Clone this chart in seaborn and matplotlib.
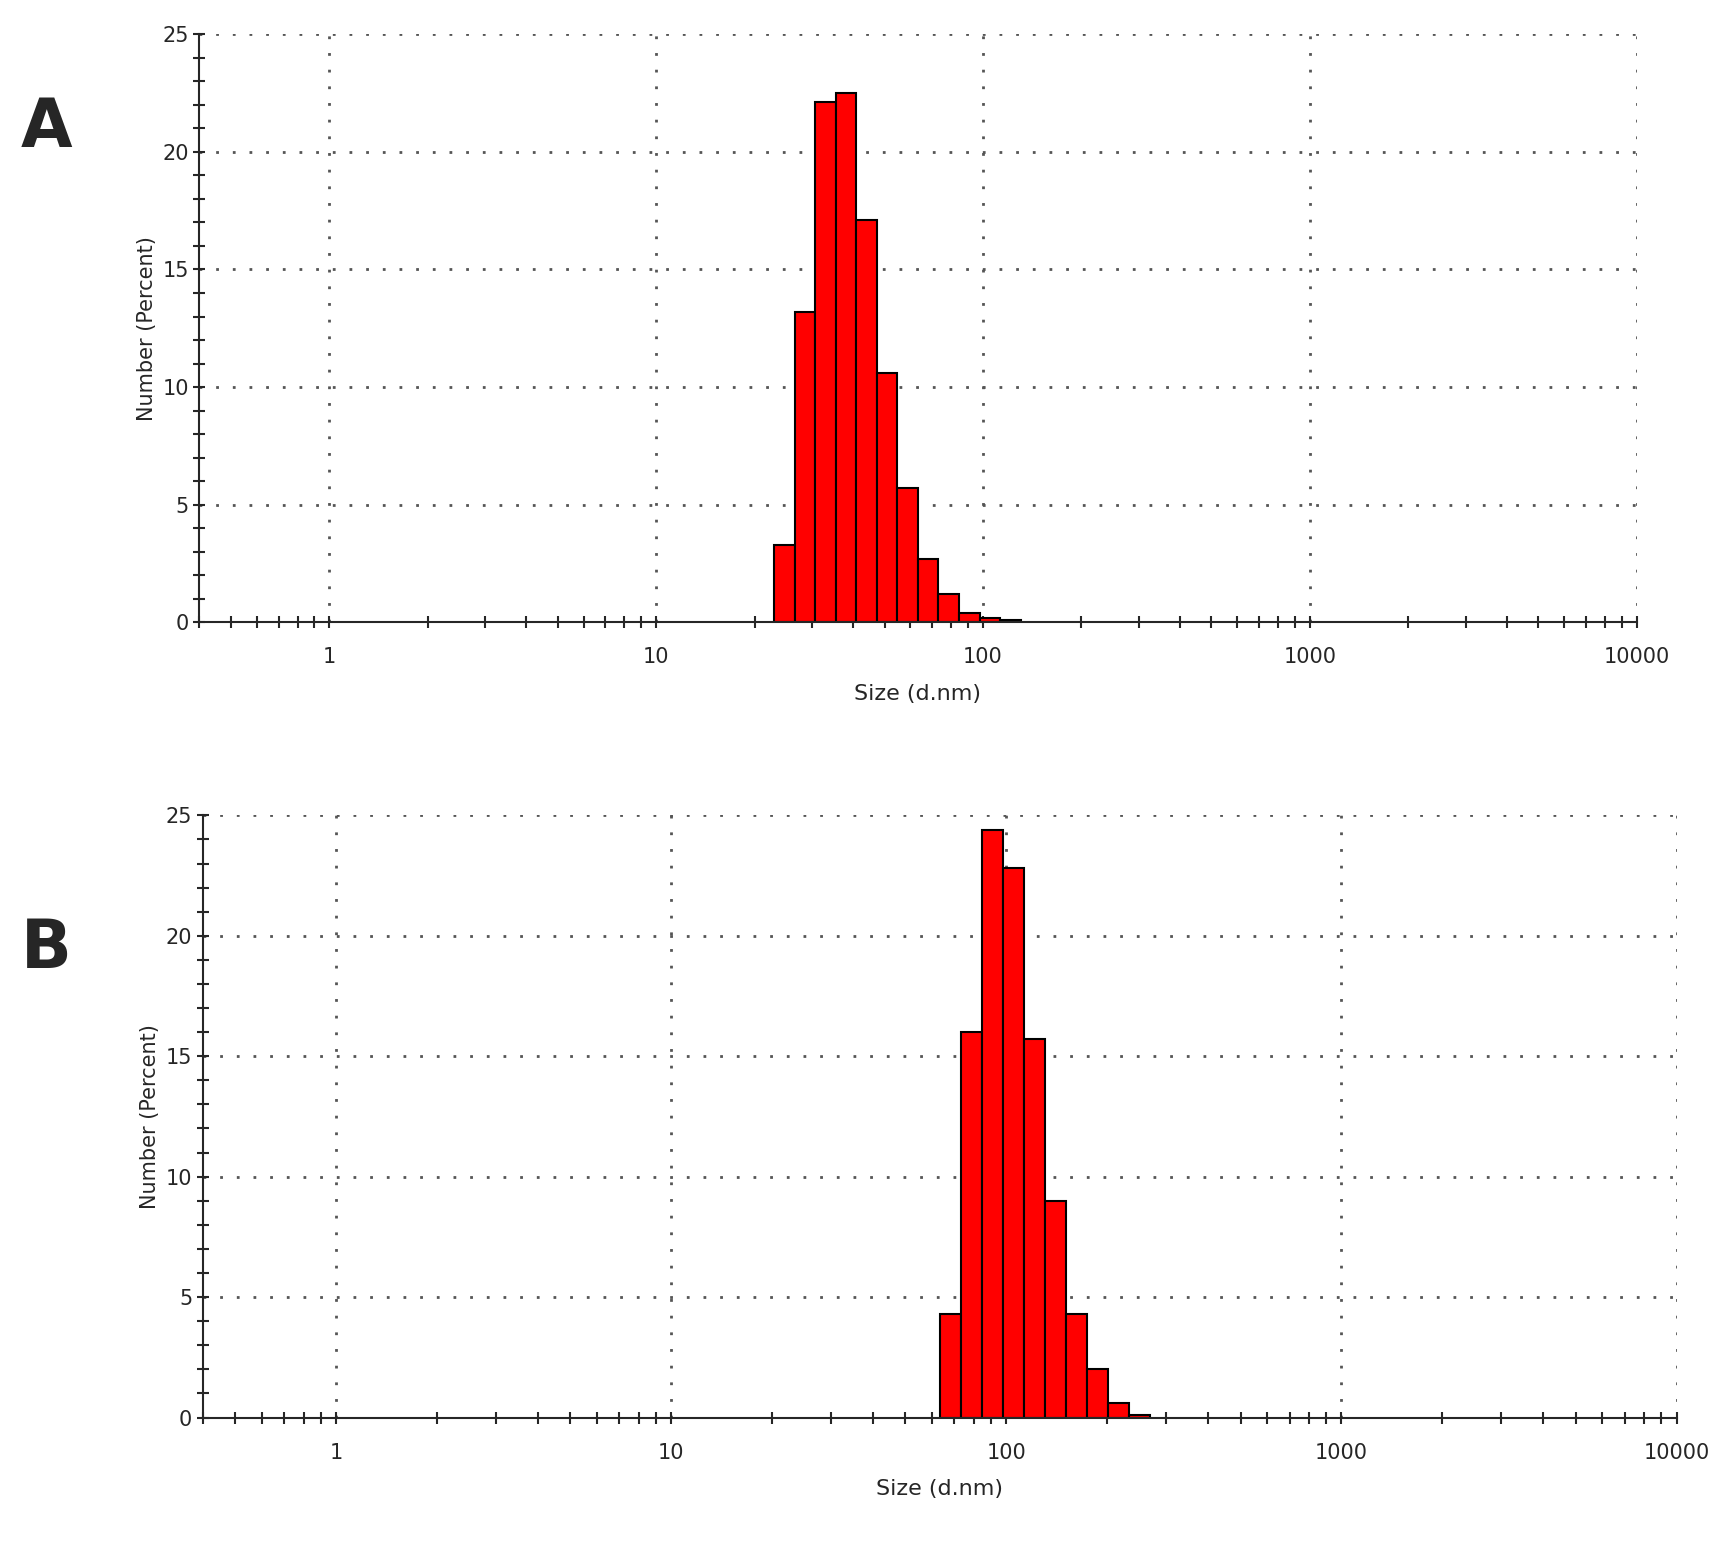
import numpy as np
import pandas as pd
import matplotlib
matplotlib.use("Agg")
import matplotlib.pyplot as plt
import seaborn as sns
from matplotlib.ticker import MultipleLocator, LogLocator, FixedLocator

sns.set_style("white")
plt.rcParams['font.family'] = ['DejaVu Sans']

# log-spaced size classes (d.nm), 70 bins from 0.4 to 10000
ratio = (10000 / 0.4) ** (1 / 70)

# panel A
a_first_bin = 28
a_percent = [3.3, 13.2, 22.1, 22.5, 17.1, 10.6, 5.7, 2.7, 1.2, 0.4, 0.2, 0.1]
# panel B
b_first_bin = 35
b_percent = [4.3, 16.0, 24.4, 22.8, 15.7, 9.0, 4.3, 2.0, 0.6, 0.1]

y_ticks = [0, 5, 10, 15, 20, 25]
x_ticks = [1, 10, 100, 1000, 10000]
x_labels = ['1', '10', '100', '1000', '10000']

fig = plt.figure(figsize=(17.32, 15.56), dpi=100)
ax_a = fig.add_axes([0.115, 0.60, 0.83, 0.378])
ax_b = fig.add_axes([0.117, 0.089, 0.851, 0.387])


def draw(ax, first, percent, letter, lx):
    edges = 0.4 * ratio ** np.arange(first, first + len(percent) + 1)
    centers = np.sqrt(edges[:-1] * edges[1:])
    df = pd.DataFrame({'size': centers, 'pct': percent})
    sns.histplot(data=df, x='size', weights='pct', bins=list(np.log10(edges)),
                 log_scale=True, ax=ax, color='#ff0000', alpha=1,
                 edgecolor='black', linewidth=1.5)
    ax.set_xlim(0.4, 10000)
    ax.set_ylim(0, 25)
    ax.xaxis.set_major_locator(FixedLocator(x_ticks))
    ax.set_xticklabels(x_labels, fontsize=15)
    ax.xaxis.set_minor_locator(LogLocator(base=10, subs=np.arange(2, 10)))
    ax.xaxis.set_minor_formatter(plt.NullFormatter())
    ax.set_yticks(y_ticks)
    ax.yaxis.set_minor_locator(MultipleLocator(1))
    ax.tick_params(axis='y', labelsize=15)
    ax.tick_params(which='both', direction='inout', length=8, width=1.5,
                   bottom=True, left=True)
    ax.tick_params(axis='x', which='major', pad=14)
    ax.grid(True, which='major', linestyle=(0, (1, 5)), color='#555555', linewidth=2)
    for s in ['top', 'right']:
        ax.spines[s].set_visible(False)
    for s in ['bottom', 'left']:
        ax.spines[s].set_linewidth(1.5)
    ax.set_xlabel('Size (d.nm)', fontsize=16, labelpad=12)
    ax.set_ylabel('Number (Percent)', fontsize=15)
    fig.text(0.012, lx, letter, fontsize=48, fontweight='bold', va='center')


draw(ax_a, a_first_bin, a_percent, 'A', 0.918)
draw(ax_b, b_first_bin, b_percent, 'B', 0.39)

fig.savefig('out.png', dpi=100)
